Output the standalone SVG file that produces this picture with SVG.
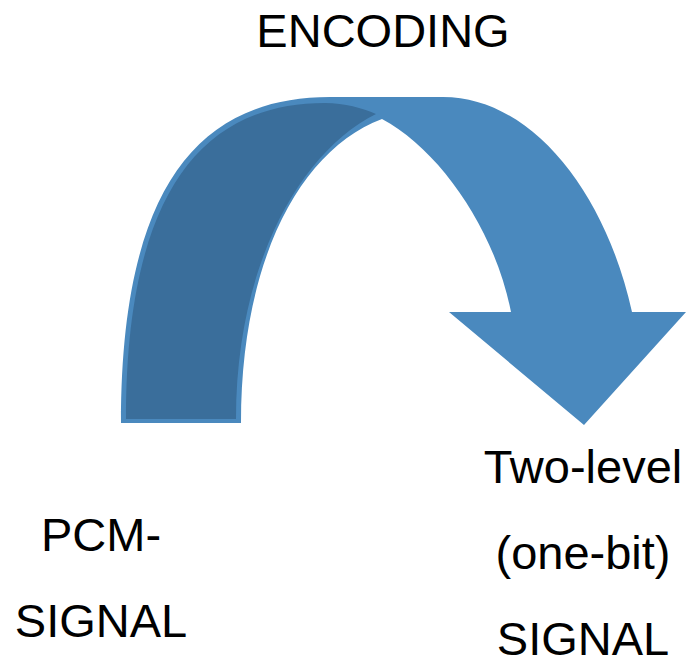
<svg xmlns="http://www.w3.org/2000/svg" width="686" height="659" viewBox="0 0 686 659">
<style>
.t{font-family:"Liberation Sans",Arial,sans-serif;font-size:47px;fill:#000;text-anchor:middle}
.light{fill:#4A89BE}
.dark{fill:#3A6E9B}
</style>
<rect width="686" height="659" fill="#fff"/>
<g id="connectors">
<path class="light" d="M121,423 C121,200 190,97 330,97 L443,97 C530,97 605,190 632,312 L686,312 L584,425 L449,312 L511,312 C495,230 440,150 382,119 C300,150 241,260 241,423 Z"/>
<path class="dark" d="M126,419 C126,205 194,103 325,103 C345,103 362,108 376,114 C300,152 236,265 236,419 Z"/>
</g>
<g id="encoding"><text class="t" x="383" y="47">ENCODING</text></g>
<g id="pcm"><text class="t" x="101" y="551">PCM-</text><text class="t" x="101" y="637">SIGNAL</text></g>
<g id="twolevel"><text class="t" x="583" y="483">Two-level</text><text class="t" x="583" y="569">(one-bit)</text><text class="t" x="583" y="655">SIGNAL</text></g>
</svg>
